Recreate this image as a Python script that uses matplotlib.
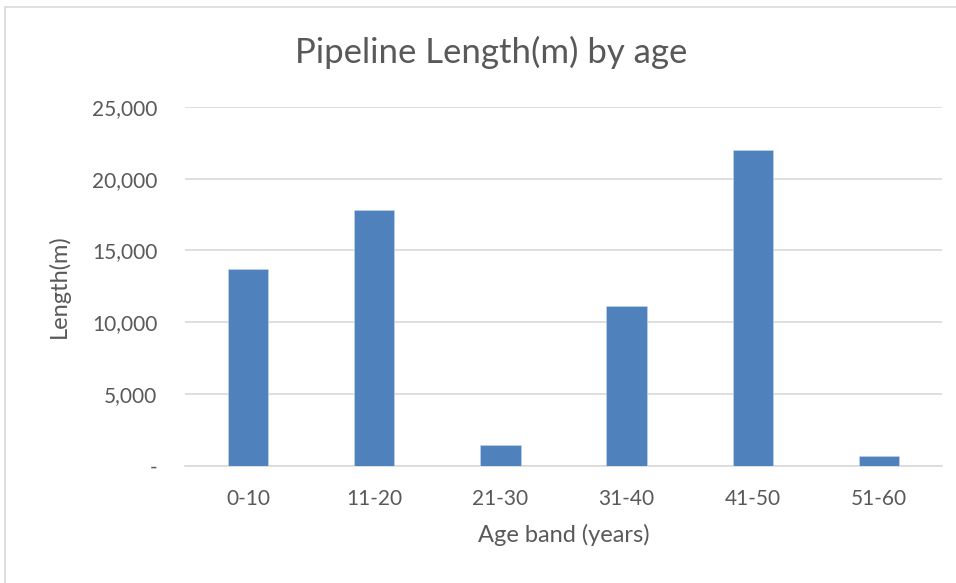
import matplotlib
matplotlib.use("Agg")
import matplotlib.pyplot as plt
from matplotlib.ticker import FuncFormatter
from matplotlib.patches import Rectangle

categories = ["0-10", "11-20", "21-30", "31-40", "41-50", "51-60"]
lengths = [13700, 17800, 1450, 11150, 22000, 650]
yticks = [0, 5000, 10000, 15000, 20000, 25000]

plt.rcParams['font.family'] = ['Lato', 'DejaVu Sans']
txt = '#595959'

fig = plt.figure(figsize=(9.56, 5.83), dpi=100)
fig.patches.append(Rectangle((5/956, -0.01), 1.0, 1 - 7/583 + 0.01, transform=fig.transFigure,
                             fill=False, edgecolor='#d9d9d9', linewidth=1.2, zorder=0))
ax = fig.add_axes([185/956, 1 - 465.5/583, (942 - 185)/956, (465.5 - 107)/583])

x = range(len(categories))
ax.bar(x, lengths, width=0.32, color='#4f81bd', edgecolor='#c6d5ea', linewidth=0.4, zorder=3)

ax.set_xlim(-0.5, len(categories) - 0.5)
ax.set_ylim(0, 25000)
ax.set_yticks(yticks)
ax.yaxis.set_major_formatter(FuncFormatter(lambda v, p: '-' if v == 0 else f'{int(v):,}'))
ax.set_xticks(list(x))
ax.set_xticklabels(categories)
ax.grid(axis='y', color='#d9d9d9', linewidth=1.2, zorder=0)
ax.set_axisbelow(True)
for s in ['top', 'right', 'left']:
    ax.spines[s].set_visible(False)
ax.spines['bottom'].set_color('#d9d9d9')
ax.spines['bottom'].set_linewidth(1.2)
ax.tick_params(axis='both', length=0, labelsize=15, colors=txt)
ax.tick_params(axis='y', pad=20)
ax.tick_params(axis='x', pad=17)

ax.set_xlabel('Age band (years)', fontsize=17, color=txt, labelpad=11)
ax.set_ylabel('Length(m)', fontsize=17, color=txt, labelpad=16)
fig.text(491/956, 1 - 52/583, 'Pipeline Length(m) by age', fontsize=25, color=txt,
         ha='center', va='center')

fig.savefig('out.png', dpi=100)
